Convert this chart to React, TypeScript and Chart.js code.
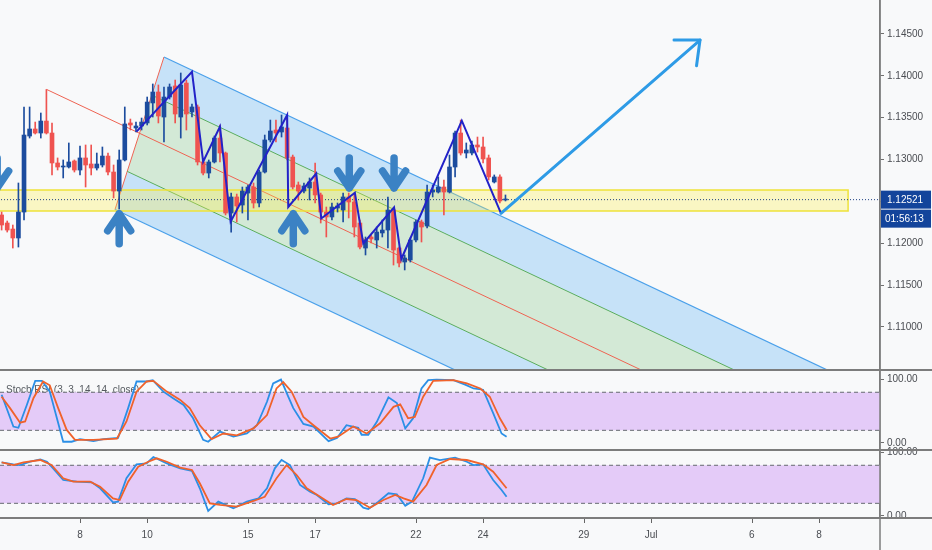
import React, { useEffect, useRef } from "react";
import { Chart, registerables } from "chart.js";

// ---------------- data ----------------
// 4-hour candles, bar index 0 = 8 Jun 00:00 (6 bars per trading day)
const FIRST_BAR = -14;
const opens = [
  1.12338, 1.12242, 1.12170, 1.12063, 1.12373, 1.13281, 1.13365, 1.13317, 1.13460, 1.13317,
  1.12959, 1.12911, 1.12911, 1.12983, 1.12875, 1.13019, 1.12947, 1.12899, 1.12935, 1.13042,
  1.12851, 1.12624, 1.12995, 1.13437, 1.13377, 1.13401, 1.13437, 1.13676, 1.13807, 1.13508,
  1.13747, 1.13879, 1.13508, 1.13914, 1.13568, 1.13628, 1.12971, 1.12839, 1.12971, 1.13257,
  1.13078, 1.12361, 1.12553, 1.12457, 1.12600, 1.12672, 1.12481, 1.12851, 1.13234, 1.13353,
  1.13329, 1.13377, 1.13030, 1.12696, 1.12624, 1.12660, 1.12732, 1.12577, 1.12373, 1.12314,
  1.12421, 1.12397, 1.12553, 1.12493, 1.12242, 1.11943, 1.12075, 1.12039, 1.12123, 1.12158,
  1.12397, 1.11943, 1.11776, 1.11800, 1.12039, 1.12254, 1.12206, 1.12612, 1.12612, 1.12672,
  1.12612, 1.12911, 1.13317, 1.13078, 1.13078, 1.13174, 1.13150, 1.13019, 1.12732, 1.12792,
  1.12517,
];
const highs = [
  1.12373, 1.12266, 1.12218, 1.12720, 1.13628, 1.13628, 1.13448, 1.13556, 1.13837, 1.13437,
  1.13019, 1.12995, 1.13198, 1.12995, 1.13162, 1.13174, 1.13174, 1.13078, 1.13150, 1.13078,
  1.12935, 1.13114, 1.13628, 1.13484, 1.13448, 1.13496, 1.13747, 1.13903, 1.13891, 1.13867,
  1.13903, 1.13950, 1.14034, 1.13950, 1.13664, 1.13652, 1.12995, 1.12995, 1.13281, 1.13413,
  1.13090, 1.12600, 1.12588, 1.12672, 1.12696, 1.12720, 1.12875, 1.13293, 1.13472, 1.13472,
  1.13532, 1.13508, 1.13054, 1.12732, 1.12720, 1.12780, 1.12959, 1.12600, 1.12433, 1.12481,
  1.12481, 1.12600, 1.12600, 1.12600, 1.12278, 1.12075, 1.12099, 1.12194, 1.12278, 1.12553,
  1.12421, 1.11955, 1.11860, 1.12063, 1.12278, 1.12278, 1.12696, 1.12696, 1.12792, 1.12756,
  1.13054, 1.13341, 1.13472, 1.13198, 1.13222, 1.13269, 1.13269, 1.13054, 1.12816, 1.12816,
  1.12577,
];
const lows = [
  1.12158, 1.12134, 1.11943, 1.11955, 1.12278, 1.13257, 1.13305, 1.13257, 1.13305, 1.12816,
  1.12875, 1.12780, 1.12899, 1.12851, 1.12816, 1.12672, 1.12816, 1.12875, 1.12911, 1.12816,
  1.12541, 1.12409, 1.12983, 1.13353, 1.13329, 1.13353, 1.13413, 1.13508, 1.13437, 1.13210,
  1.13723, 1.13437, 1.13257, 1.13353, 1.13508, 1.12935, 1.12816, 1.12780, 1.12959, 1.12971,
  1.12338, 1.12134, 1.12254, 1.12361, 1.12278, 1.12421, 1.12433, 1.12839, 1.13210, 1.13210,
  1.13269, 1.12995, 1.12648, 1.12517, 1.12600, 1.12517, 1.12481, 1.12242, 1.12075, 1.12278,
  1.12373, 1.12254, 1.12302, 1.12075, 1.11931, 1.11860, 1.12003, 1.11943, 1.12075, 1.11943,
  1.11740, 1.11716, 1.11681, 1.11776, 1.12015, 1.12015, 1.12182, 1.12553, 1.12600, 1.12338,
  1.12600, 1.12792, 1.13054, 1.13019, 1.13054, 1.13090, 1.12959, 1.12756, 1.12720, 1.12481,
  1.12505,
];
const closes = [
  1.12218, 1.12158, 1.12063, 1.12373, 1.13293, 1.13365, 1.13317, 1.13460, 1.13317, 1.12959,
  1.12911, 1.12923, 1.12971, 1.12875, 1.13019, 1.12935, 1.12899, 1.12947, 1.13042, 1.12851,
  1.12624, 1.12995, 1.13425, 1.13413, 1.13401, 1.13448, 1.13687, 1.13807, 1.13520, 1.13747,
  1.13867, 1.13544, 1.13891, 1.13544, 1.13628, 1.12971, 1.12839, 1.12971, 1.13257, 1.13078,
  1.12361, 1.12553, 1.12445, 1.12624, 1.12672, 1.12481, 1.12851, 1.13234, 1.13341, 1.13317,
  1.13389, 1.13019, 1.12672, 1.12624, 1.12684, 1.12732, 1.12577, 1.12373, 1.12314, 1.12433,
  1.12445, 1.12553, 1.12493, 1.12194, 1.11955, 1.12039, 1.12051, 1.12134, 1.12158, 1.12397,
  1.11919, 1.11764, 1.11824, 1.12039, 1.12254, 1.12194, 1.12612, 1.12636, 1.12672, 1.12612,
  1.12911, 1.13317, 1.13078, 1.13114, 1.13174, 1.13150, 1.13007, 1.12792, 1.12792, 1.12505,
  1.12521,
];

// axis
const X_MIN = -14.29;
const X_MAX = 142.9;
const xTickBars = [0, 12, 30, 42, 60, 72, 90, 102, 120, 132];
const xTickLabels = ["8", "10", "15", "17", "22", "24", "29", "Jul", "6", "8"];
const PRICE_MIN = 1.10486;
const PRICE_MAX = 1.14906;
const priceTicks = [1.11, 1.115, 1.12, 1.125, 1.13, 1.135, 1.14, 1.145];
const oscTicks = [0, 100];
const countdownLabel = "01:56:13";

// drawings
const pitchforkBars = [-5.95, 15.0, 6.25];
const pitchforkPrices = [1.13837, 1.14225, 1.12403];
const zoneBars = [-30, 137.2];
const zonePrices = [1.12636, 1.12385];
const zigzagBars = [10.1, 20.0, 22.0, 25.0, 26.9, 37.0, 37.2, 42.2, 43.1, 49.1, 50.6, 56.1, 57.4, 68.2, 75.2];
const zigzagPrices = [1.13333, 1.14049, 1.12974, 1.13393, 1.12258, 1.13532, 1.12433, 1.12833, 1.12296, 1.12604, 1.11997, 1.1243, 1.11812, 1.13464, 1.12358];
const bigArrowBars = [75.2, 110.75];
const bigArrowPrices = [1.12358, 1.14428];
const markerBars = [-14.8, 7.0, 38.1, 48.1, 56.1];
const markerPrices = [1.12616, 1.12397, 1.12397, 1.12616, 1.12616];
const markerDirs = [-1, 1, 1, -1, -1]; // 1 = up arrow, -1 = down arrow

// oscillators: [bar, value]
const stochRsiTitle = "Stoch RSI (3, 3, 14, 14, close)";
const stochTitle = "Stoch (14, 3, 3)";
const oscBands = [80, 20];
const stochRsiK = [[-14,76],[-11.9,26],[-11,24],[-9.5,60],[-8,98],[-6.8,98],[-5.4,81],[-3,2],[-1.5,2],[0,6],[2.4,3],[4.2,6],[6.8,8],[8.6,55],[10.1,97],[11.9,97],[13,99],[14.9,81],[16.7,70],[18.5,60],[20.2,39],[22,5],[22.9,2],[25,18],[27.4,10],[29.8,15],[31.6,28],[33.4,65],[34.5,94],[35.9,100],[37.2,73],[38.1,55],[39.9,30],[41.7,26],[44.4,3],[45.9,8],[47.6,28],[49.7,24],[50.3,13],[51.5,13],[53,33],[55.1,72],[56.6,63],[58.1,23],[59.5,39],[61,86],[62.2,99],[63.7,100],[66.7,99],[68.8,92],[70.3,86],[72,84],[73.8,47],[75.3,15],[76.2,10]];
const stochRsiD = [[-14,73],[-12.5,55],[-10.7,32],[-9.8,34],[-8.3,71],[-6.6,97],[-5.4,91],[-3.9,55],[-2.4,21],[-0.9,5],[2.4,5],[6.6,7],[8.3,34],[10.1,81],[11.9,97],[13.1,98],[15.5,81],[17.9,68],[19.6,55],[21.4,28],[23.5,6],[25.6,15],[28,12],[31,23],[33.4,44],[35.1,86],[36.3,96],[37.8,81],[39.9,41],[41.7,28],[44.7,7],[46.1,10],[48.8,26],[51.2,15],[53.6,31],[56,57],[57.2,61],[58.6,39],[59.8,41],[61.3,73],[63.1,98],[66.7,99],[69.1,94],[71.5,86],[73.2,73],[75,39],[76.2,21]];
const stochK = [[-14,84.7],[-11.9,81.5],[-10.7,80.4],[-8.9,85.6],[-7.1,89.4],[-5.9,85.6],[-4.8,75.2],[-3,56.8],[-0.6,54.1],[2.1,53.2],[3.6,43.7],[5.9,21.6],[6.8,22.6],[8.3,59.5],[10.1,81.5],[11.9,83.1],[13.1,93.1],[15.5,83.1],[17.9,75.2],[20,71],[21.4,43.7],[22.9,7.9],[24.7,22.6],[27.4,12.1],[29.8,22.6],[31.9,27.9],[33.4,43.7],[34.8,75.2],[36,88.3],[37.5,80.4],[39.3,48.9],[41.1,38.3],[42.3,33.1],[44.4,18.5],[45.9,20],[47.6,27.9],[49.1,26.8],[50.6,13.1],[51.5,11],[53.3,22.6],[55.1,35.8],[56.6,34.2],[58.1,16.2],[59.3,22.6],[61.3,59.5],[62.5,92],[64.3,88.3],[67,92],[69.1,85.6],[70.3,80.4],[72,81.5],[73.8,56.8],[75.3,41],[76.2,30.4]];
const stochD = [[-14,84.7],[-11.9,80.4],[-10.1,84.7],[-7.1,88.3],[-5.1,80.4],[-3,59.5],[-1.2,54.1],[1.8,54.1],[3.6,46.2],[5.9,27.9],[7.1,25.2],[8.6,54.1],[10.4,77.8],[12.2,85.6],[13.7,91],[15.5,85.6],[17.9,76.2],[20,72.6],[21.4,51.6],[23.2,20],[25,17.4],[28,14.7],[31,23.7],[33,30.4],[35.1,59.5],[36.9,80.4],[38.7,64.7],[40.5,43.7],[42.9,30.4],[45.2,17.4],[47.6,26.8],[49.4,25.2],[51.8,13.1],[54.2,25.2],[56.3,33.1],[57.8,27.9],[59.5,22.6],[61.9,48.9],[63.7,80.4],[66.1,89.9],[69.1,88.3],[72,81.5],[73.8,69.9],[76.2,43.7]];

// ---------------- styles ----------------
const FONT = "'Liberation Sans', Arial, sans-serif";
const FSIZE = 10;
const BG = "#f8f9fa";
const UP = "#1c4c9e";
const DOWN = "#ef5350";
const TAG = "#13449b";
const SEP = "#7c7c7c";
const TXT = "#4a4d52";

// clip each dataset to its own pane (registered before Filler so fills are clipped too)
const paneClip = {
  id: "paneClip",
  beforeDatasetDraw(chart: any, args: any) {
    const ds = chart.data.datasets[args.index];
    const sc = chart.scales[ds.yAxisID || "y"];
    const a = chart.chartArea;
    const ctx = chart.ctx;
    ctx.save();
    ctx.beginPath();
    ctx.rect(a.left, sc.top, a.right - a.left, sc.bottom - sc.top);
    ctx.clip();
  },
  afterDatasetDraw(chart: any) {
    chart.ctx.restore();
  },
};
Chart.register(paneClip as any);
Chart.register(...registerables);

const pts = (bars: number[], vals: number[]) => bars.map((b, k) => ({ x: b, y: vals[k] }));
const pairPts = (arr: number[][]) => arr.map((p) => ({ x: p[0], y: p[1] }));

function buildDatasets() {
  const n = opens.length;
  const colors = opens.map((o, k) => (closes[k] >= o ? UP : DOWN));
  const wicks = opens.map((o, k) => ({ x: FIRST_BAR + k, y: [lows[k], highs[k]] }));
  const bodies = opens.map((o, k) => ({ x: FIRST_BAR + k, y: [o, closes[k]] }));
  const lastClose = closes[n - 1];

  // pitchfork geometry from its three anchors
  const A = { x: pitchforkBars[0], y: pitchforkPrices[0] };
  const B = { x: pitchforkBars[1], y: pitchforkPrices[1] };
  const C = { x: pitchforkBars[2], y: pitchforkPrices[2] };
  const M = { x: (B.x + C.x) / 2, y: (B.y + C.y) / 2 };
  const dir = { x: M.x - A.x, y: M.y - A.y };
  const T = 14;
  const at = (f: number) => ({ x: M.x + (B.x - M.x) * f, y: M.y + (B.y - M.y) * f });
  const far = (p: any) => ({ x: p.x + dir.x * T, y: p.y + dir.y * T });
  const band = (f1: number, f2: number) => [at(f1), far(at(f1)), far(at(f2)), at(f2), at(f1)];
  const ray = (f: number) => [at(f), far(at(f))];

  const line = (data: any[], color: string, width: number, order: number, extra: any = {}) => ({
    type: "line",
    data,
    yAxisID: "y",
    borderColor: color,
    borderWidth: width,
    pointRadius: 0,
    tension: 0,
    fill: false,
    order,
    ...extra,
  });
  const shape = (data: any[], color: string, order: number, axis = "y", extra: any = {}) => ({
    type: "line",
    data,
    yAxisID: axis,
    backgroundColor: color,
    borderWidth: 0,
    pointRadius: 0,
    tension: 0,
    fill: "shape",
    order,
    ...extra,
  });

  const ds: any[] = [];
  // pitchfork fills
  ds.push(shape(band(1, 0.5), "rgba(33,150,243,0.23)", 30));
  ds.push(shape(band(0.5, -0.5), "rgba(76,175,80,0.21)", 30));
  ds.push(shape(band(-0.5, -1), "rgba(33,150,243,0.23)", 30));
  // pitchfork lines
  ds.push(line(ray(1), "#4aa0ea", 1.2, 29));
  ds.push(line(ray(-1), "#4aa0ea", 1.2, 29));
  ds.push(line(ray(0.5), "#5aad5d", 1, 29));
  ds.push(line(ray(-0.5), "#5aad5d", 1, 29));
  ds.push(line([A, far(M)], "#ee6352", 1, 29));
  ds.push(line([B, C], "#ee6352", 1, 29));
  // yellow zone
  const zone = [
    { x: zoneBars[0], y: zonePrices[0] },
    { x: zoneBars[1], y: zonePrices[0] },
    { x: zoneBars[1], y: zonePrices[1] },
    { x: zoneBars[0], y: zonePrices[1] },
    { x: zoneBars[0], y: zonePrices[0] },
  ];
  ds.push(shape(zone, "rgba(255,240,70,0.30)", 28, "y", { borderColor: "#eee23a", borderWidth: 1.5 }));
  // last price dotted line
  ds.push(line([{ x: X_MIN - 10, y: lastClose }, { x: X_MAX + 10, y: lastClose }], "#1c3f80", 1, 27, { borderDash: [1, 2] }));
  // candles
  ds.push({ type: "bar", data: wicks, yAxisID: "y", backgroundColor: colors, barThickness: 1, grouped: false, order: 26 });
  ds.push({ type: "bar", data: bodies, yAxisID: "y", backgroundColor: colors, barThickness: 4, minBarLength: 1, grouped: false, order: 25 });
  // zigzag path
  ds.push(line(pts(zigzagBars, zigzagPrices), "#2222c8", 2, 24));
  // projection arrow shaft
  ds.push(line(pts(bigArrowBars, bigArrowPrices), "#2e9be6", 3, 23, { borderCapStyle: "round" }));

  // oscillator panes
  for (const [axis, K, D] of [["rsi", stochRsiK, stochRsiD], ["stoch", stochK, stochD]] as any[]) {
    const hi = oscBands[0];
    const lo = oscBands[1];
    const bandPts = [
      { x: X_MIN - 10, y: hi },
      { x: X_MAX + 10, y: hi },
      { x: X_MAX + 10, y: lo },
      { x: X_MIN - 10, y: lo },
    ];
    ds.push(shape(bandPts, "#e4cbf8", 30, axis));
    ds.push(line([{ x: X_MIN - 10, y: hi }, { x: X_MAX + 10, y: hi }], "#666a70", 1, 29, { yAxisID: axis, borderDash: [4, 3] }));
    ds.push(line([{ x: X_MIN - 10, y: lo }, { x: X_MAX + 10, y: lo }], "#666a70", 1, 29, { yAxisID: axis, borderDash: [4, 3] }));
    ds.push(line(pairPts(K), "#2b8fe6", 1.8, 12, { yAxisID: axis }));
    ds.push(line(pairPts(D), "#f0622b", 1.8, 11, { yAxisID: axis }));
  }
  return ds;
}

const overlay = {
  id: "overlay",
  beforeDatasetsDraw(chart: any) {
    const ctx = chart.ctx;
    const rs = chart.scales.rsi;
    const ss = chart.scales.stoch;
    ctx.save();
    ctx.fillStyle = "#555a60";
    ctx.font = FSIZE + "px " + FONT;
    ctx.textBaseline = "middle";
    ctx.textAlign = "left";
    ctx.fillText(stochRsiTitle, 6, rs.top + 20);
    ctx.fillText(stochTitle, 6, ss.top + 20);
    ctx.restore();
  },
  afterDatasetsDraw(chart: any) {
    const ctx = chart.ctx;
    const xs = chart.scales.x;
    const ys = chart.scales.y;
    const a = chart.chartArea;
    ctx.save();
    ctx.beginPath();
    ctx.rect(a.left, ys.top, a.right - a.left, ys.bottom - ys.top);
    ctx.clip();
    // thick arrows
    ctx.strokeStyle = "#3b82c4";
    ctx.lineWidth = 7.5;
    ctx.lineCap = "round";
    ctx.lineJoin = "round";
    markerBars.forEach((b, k) => {
      const px = xs.getPixelForValue(b);
      const py = ys.getPixelForValue(markerPrices[k]);
      const s = markerDirs[k];
      const gy = py + 3.7 * s;
      ctx.beginPath();
      ctx.moveTo(px - 11.5, gy + 17 * s);
      ctx.lineTo(px, gy);
      ctx.lineTo(px + 11.5, gy + 17 * s);
      ctx.moveTo(px, gy);
      ctx.lineTo(px, gy + 30 * s);
      ctx.stroke();
    });
    // projection arrow head
    const sx = xs.getPixelForValue(bigArrowBars[0]);
    const sy = ys.getPixelForValue(bigArrowPrices[0]);
    const ex = xs.getPixelForValue(bigArrowBars[1]);
    const ey = ys.getPixelForValue(bigArrowPrices[1]);
    const ang = Math.atan2(ey - sy, ex - sx);
    const L = 26;
    const sp = 0.72;
    ctx.strokeStyle = "#2e9be6";
    ctx.lineWidth = 3;
    ctx.beginPath();
    ctx.moveTo(ex + L * Math.cos(ang + Math.PI - sp), ey + L * Math.sin(ang + Math.PI - sp));
    ctx.lineTo(ex, ey);
    ctx.lineTo(ex + L * Math.cos(ang + Math.PI + sp), ey + L * Math.sin(ang + Math.PI + sp));
    ctx.stroke();
    ctx.restore();
  },
  afterDraw(chart: any) {
    const ctx = chart.ctx;
    const a = chart.chartArea;
    const xs = chart.scales.x;
    const W = chart.width;
    const H = chart.height;
    ctx.save();
    // pane separators
    ctx.strokeStyle = SEP;
    ctx.lineWidth = 2;
    for (const id of ["y", "rsi", "stoch"]) {
      const yb = Math.round(chart.scales[id].bottom);
      ctx.beginPath();
      ctx.moveTo(0, yb);
      ctx.lineTo(W, yb);
      ctx.stroke();
    }
    ctx.lineWidth = 1.5;
    ctx.beginPath();
    ctx.moveTo(a.right, 0);
    ctx.lineTo(a.right, H);
    ctx.stroke();
    // time axis tick marks
    ctx.strokeStyle = "#666";
    ctx.lineWidth = 1;
    const tb = Math.round(chart.scales.stoch.bottom);
    for (const b of xTickBars) {
      const px = Math.round(xs.getPixelForValue(b)) + 0.5;
      ctx.beginPath();
      ctx.moveTo(px, tb + 1);
      ctx.lineTo(px, tb + 5);
      ctx.stroke();
    }
    // last price tag + countdown
    const lastClose = closes[closes.length - 1];
    const py = chart.scales.y.getPixelForValue(lastClose);
    ctx.fillStyle = TAG;
    ctx.fillRect(a.right + 1, py - 9, W - a.right - 2, 18);
    ctx.fillRect(a.right + 1, py + 10, W - a.right - 2, 18);
    ctx.fillStyle = "#ffffff";
    ctx.font = FSIZE + "px " + FONT;
    ctx.textBaseline = "middle";
    ctx.textAlign = "left";
    ctx.fillText(lastClose.toFixed(5), a.right + 7, py + 0.5);
    ctx.fillText(countdownLabel, a.right + 5, py + 19.5);
    ctx.restore();
  },
};

function makeConfig(): any {
  const yCommon = (extra: any) => ({
    type: "linear",
    position: "right",
    stack: "panes",
    afterFit: (s: any) => {
      s.width = 52;
      s.paddingTop = 0;
      s.paddingBottom = 0;
    },
    grid: { offset: false, drawOnChartArea: false, drawTicks: true, tickLength: 4, color: "#6f6f6f" },
    border: { display: true, color: SEP, width: 1.5 },
    ...extra,
  });
  const yTicks = (digits: number) => ({
    padding: 3,
    color: TXT,
    font: { size: FSIZE, family: FONT },
    callback: (v: any) => Number(v).toFixed(digits),
  });
  return {
    type: "line",
    data: { datasets: buildDatasets() },
    options: {
      animation: false,
      responsive: true,
      maintainAspectRatio: false,
      events: [],
      layout: { padding: 0, autoPadding: false },
      plugins: { legend: { display: false }, tooltip: { enabled: false }, colors: { enabled: false } },
      scales: {
        x: {
          type: "linear",
          position: "bottom",
          min: X_MIN,
          max: X_MAX,
          offset: false,
          afterBuildTicks: (s: any) => {
            s.ticks = xTickBars.map((v) => ({ value: v }));
          },
          afterFit: (s: any) => {
            s.height = 32.5;
            s.paddingLeft = 0;
            s.paddingRight = 0;
          },
          grid: { offset: false, drawOnChartArea: false, drawTicks: true, tickLength: 5, color: "rgba(0,0,0,0)" },
          border: { display: false },
          ticks: {
            autoSkip: false,
            maxRotation: 0,
            padding: 7,
            color: TXT,
            font: { size: FSIZE, family: FONT },
            callback: (_v: any, i: number) => xTickLabels[i],
          },
        },
        y: yCommon({
          stackWeight: 370,
          min: PRICE_MIN,
          max: PRICE_MAX,
          afterBuildTicks: (s: any) => {
            s.ticks = priceTicks.map((v) => ({ value: v }));
          },
          ticks: yTicks(5),
        }),
        rsi: yCommon({
          stackWeight: 80,
          min: -11.04,
          max: 115.1,
          afterBuildTicks: (s: any) => {
            s.ticks = oscTicks.map((v) => ({ value: v }));
          },
          ticks: yTicks(2),
        }),
        stoch: yCommon({
          stackWeight: 67.5,
          min: -2.37,
          max: 104.1,
          afterBuildTicks: (s: any) => {
            s.ticks = oscTicks.map((v) => ({ value: v }));
          },
          ticks: yTicks(2),
        }),
      },
    },
    plugins: [overlay],
  };
}

export default function App() {
  const ref = useRef<HTMLCanvasElement | null>(null);
  useEffect(() => {
    if (!ref.current) return;
    const chart = new Chart(ref.current, makeConfig());
    return () => chart.destroy();
  }, []);
  return (
    <div style={{ position: "fixed", left: 0, top: 0, width: 932, height: 550, background: BG }}>
      <canvas ref={ref} />
    </div>
  );
}
